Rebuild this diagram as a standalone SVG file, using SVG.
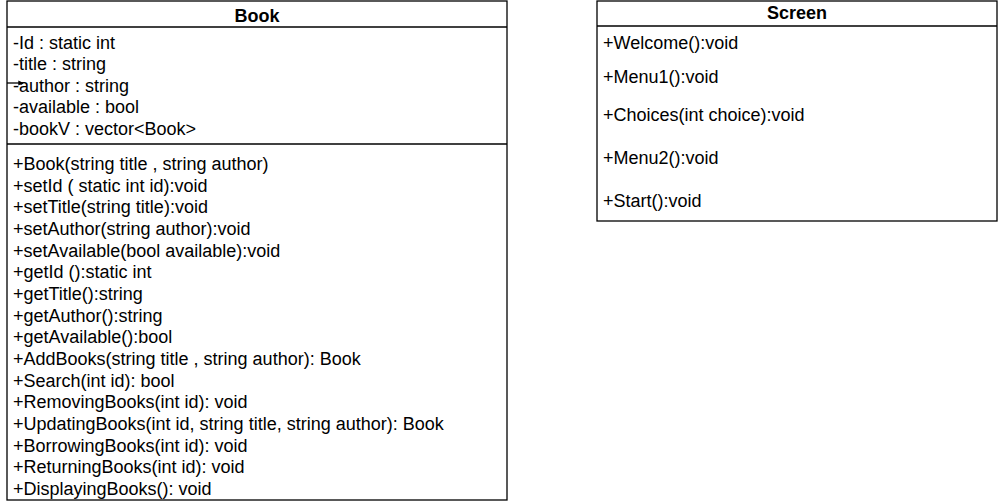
<svg xmlns="http://www.w3.org/2000/svg" width="998" height="504" viewBox="0 0 998 504">
<defs>
<style>
.box{fill:#fff;stroke:#000;stroke-width:1.3}
.ln{stroke:#000;stroke-width:1.3;fill:none}
.t{font-family:"Liberation Sans",Arial,sans-serif;font-size:18px;fill:#000}
.h{font-family:"Liberation Sans",Arial,sans-serif;font-size:18px;font-weight:bold;fill:#000;text-anchor:middle}
</style>
<marker id="ah" viewBox="0 0 10 10" refX="9" refY="5" markerWidth="4" markerHeight="4" orient="auto">
<path d="M0,0 L10,5 L0,10 z" fill="#000"/>
</marker>
</defs>
<rect width="998" height="504" fill="#fff"/>
<g id="book">
<rect class="box" x="7" y="1" width="500" height="499"/>
<line class="ln" x1="7" y1="27" x2="507" y2="27"/>
<line class="ln" x1="7" y1="144" x2="507" y2="144"/>
<text class="h" x="257" y="22">Book</text>
<text class="t" x="13" y="49">-Id : static int</text>
<text class="t" x="13" y="70">-title : string</text>
<text class="t" x="13" y="92">-author : string</text>
<text class="t" x="13" y="113">-available : bool</text>
<text class="t" x="13" y="135">-bookV : vector&lt;Book&gt;</text>
<text class="t" x="13" y="170">+Book(string title , string author)</text>
<text class="t" x="13" y="191.7">+setId ( static int id):void</text>
<text class="t" x="13" y="213.3">+setTitle(string title):void</text>
<text class="t" x="13" y="235">+setAuthor(string author):void</text>
<text class="t" x="13" y="256.7">+setAvailable(bool available):void</text>
<text class="t" x="13" y="278.3">+getId ():static int</text>
<text class="t" x="13" y="300">+getTitle():string</text>
<text class="t" x="13" y="321.7">+getAuthor():string</text>
<text class="t" x="13" y="343.3">+getAvailable():bool</text>
<text class="t" x="13" y="365">+AddBooks(string title , string author): Book</text>
<text class="t" x="13" y="386.7">+Search(int id): bool</text>
<text class="t" x="13" y="408.3">+RemovingBooks(int id): void</text>
<text class="t" x="13" y="430">+UpdatingBooks(int id, string title, string author): Book</text>
<text class="t" x="13" y="451.7">+BorrowingBooks(int id): void</text>
<text class="t" x="13" y="473.3">+ReturningBooks(int id): void</text>
<text class="t" x="13" y="495">+DisplayingBooks(): void</text>
</g>
<g id="screen">
<rect class="box" x="597" y="1" width="400" height="220"/>
<line class="ln" x1="597" y1="26" x2="997" y2="26"/>
<text class="h" x="797" y="19">Screen</text>
<text class="t" x="603" y="49">+Welcome():void</text>
<text class="t" x="603" y="83">+Menu1():void</text>
<text class="t" x="603" y="121">+Choices(int choice):void</text>
<text class="t" x="603" y="164">+Menu2():void</text>
<text class="t" x="603" y="207">+Start():void</text>
</g>
<g id="connectors">
<line class="ln" x1="7" y1="83" x2="23" y2="83" marker-end="url(#ah)"/>
</g>
</svg>
